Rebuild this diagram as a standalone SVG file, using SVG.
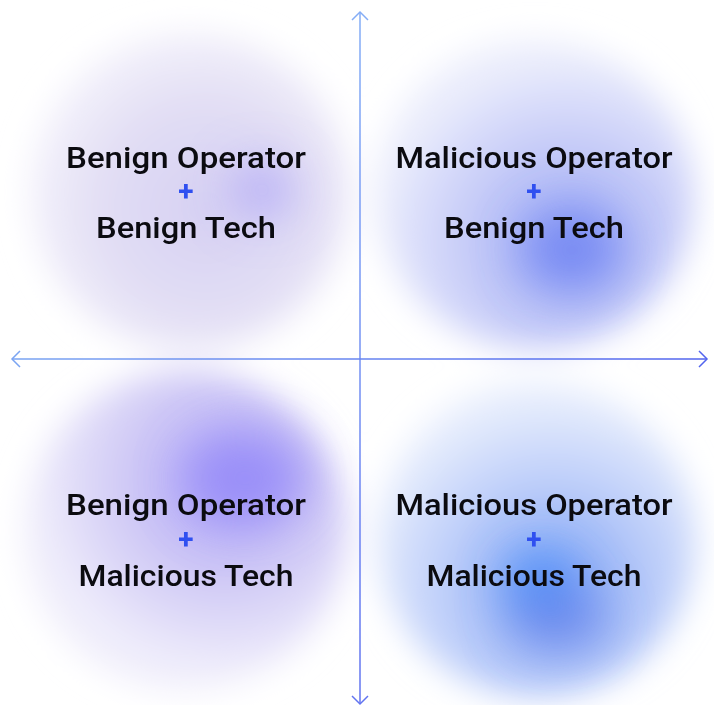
<svg xmlns="http://www.w3.org/2000/svg" width="714" height="705" viewBox="0 0 714 705">
  <defs>
    <filter id="edge" x="-30%" y="-30%" width="160%" height="160%">
      <feGaussianBlur stdDeviation="16"/>
    </filter>
    <filter id="glow" x="-80%" y="-80%" width="260%" height="260%">
      <feGaussianBlur stdDeviation="24"/>
    </filter>
    <linearGradient id="axisV" gradientUnits="userSpaceOnUse" x1="360" y1="12" x2="360" y2="704">
      <stop offset="0" stop-color="#84adf6"/>
      <stop offset="1" stop-color="#6274f0"/>
    </linearGradient>
    <linearGradient id="axisH" gradientUnits="userSpaceOnUse" x1="12" y1="359" x2="707" y2="359">
      <stop offset="0" stop-color="#7aa4f2"/>
      <stop offset="1" stop-color="#5264ee"/>
    </linearGradient>
    <radialGradient id="gTL" cx="0.55" cy="0.55" r="0.55">
      <stop offset="0" stop-color="#d6d0f3"/>
      <stop offset="0.6" stop-color="#e2def4"/>
      <stop offset="1" stop-color="#f3f1fb"/>
    </radialGradient>
    <radialGradient id="gTR" cx="0.6" cy="0.65" r="0.6">
      <stop offset="0" stop-color="#9eabf6"/>
      <stop offset="0.55" stop-color="#c8cdf8"/>
      <stop offset="1" stop-color="#eceefc"/>
    </radialGradient>
    <radialGradient id="gBL" cx="0.62" cy="0.35" r="0.6">
      <stop offset="0" stop-color="#b0a6f8"/>
      <stop offset="0.55" stop-color="#d2ccf6"/>
      <stop offset="1" stop-color="#f0eefb"/>
    </radialGradient>
    <radialGradient id="gBR" cx="0.55" cy="0.65" r="0.6">
      <stop offset="0" stop-color="#7ea2f6"/>
      <stop offset="0.55" stop-color="#bccdf9"/>
      <stop offset="1" stop-color="#e8eefd"/>
    </radialGradient>
    <style>
      .label { font-family: "Roboto", "Liberation Sans", sans-serif; font-size: 30px; font-weight: 500; fill: #0b0b10; text-anchor: middle; }
      .plus { font-family: "Roboto", "Liberation Sans", sans-serif; font-size: 28px; font-weight: 700; fill: #2f4ff0; text-anchor: middle; }
      .axis { fill: none; stroke-width: 1.5; }
    </style>
  </defs>

  <rect width="714" height="705" fill="#ffffff"/>

  <!-- soft colour clouds behind each quadrant -->
  <g id="clouds">
    <g filter="url(#edge)">
      <ellipse cx="190" cy="192" rx="160" ry="160" fill="url(#gTL)"/>
      <ellipse cx="535" cy="195" rx="160" ry="155" fill="url(#gTR)"/>
      <ellipse cx="186" cy="530" rx="162" ry="160" fill="url(#gBL)"/>
      <ellipse cx="537" cy="540" rx="160" ry="158" fill="url(#gBR)"/>
    </g>
    <g filter="url(#glow)">
      <ellipse cx="262" cy="190" rx="30" ry="26" fill="#a69ef8" opacity="0.8"/>
      <ellipse cx="572" cy="250" rx="50" ry="40" fill="#6a80f2" opacity="0.8"/>
      <ellipse cx="245" cy="478" rx="60" ry="45" fill="#9488f8" opacity="0.85"/>
      <ellipse cx="540" cy="582" rx="34" ry="30" fill="#4890fa" opacity="0.9"/>
      <ellipse cx="558" cy="618" rx="48" ry="30" fill="#6480ea" opacity="0.75"/>
    </g>
  </g>

  <!-- quadrant axes -->
  <g id="connectors">
    <line class="axis" x1="360" y1="12" x2="360" y2="704" stroke="url(#axisV)"/>
    <line class="axis" x1="12" y1="359" x2="707" y2="359" stroke="url(#axisH)"/>
    <path class="axis" d="M352,20 L360,12 L368,20" stroke="#84adf6"/>
    <path class="axis" d="M352,696 L360,704 L368,696" stroke="#6274f0"/>
    <path class="axis" d="M20,351 L12,359 L20,367" stroke="#7aa4f2"/>
    <path class="axis" d="M699,351 L707,359 L699,367" stroke="#5264ee"/>
  </g>

  <g id="benign-benign">
    <text class="label" x="186" y="168" textLength="240" lengthAdjust="spacingAndGlyphs">Benign Operator</text>
    <text class="plus" x="186" y="201">+</text>
    <text class="label" x="186" y="238" textLength="180" lengthAdjust="spacingAndGlyphs">Benign Tech</text>
  </g>

  <g id="malicious-benign">
    <text class="label" x="534" y="168" textLength="277" lengthAdjust="spacingAndGlyphs">Malicious Operator</text>
    <text class="plus" x="534" y="201">+</text>
    <text class="label" x="534" y="238" textLength="180" lengthAdjust="spacingAndGlyphs">Benign Tech</text>
  </g>

  <g id="benign-malicious">
    <text class="label" x="186" y="515" textLength="240" lengthAdjust="spacingAndGlyphs">Benign Operator</text>
    <text class="plus" x="186" y="549">+</text>
    <text class="label" x="186" y="586" textLength="215" lengthAdjust="spacingAndGlyphs">Malicious Tech</text>
  </g>

  <g id="malicious-malicious">
    <text class="label" x="534" y="515" textLength="277" lengthAdjust="spacingAndGlyphs">Malicious Operator</text>
    <text class="plus" x="534" y="549">+</text>
    <text class="label" x="534" y="586" textLength="215" lengthAdjust="spacingAndGlyphs">Malicious Tech</text>
  </g>
</svg>
